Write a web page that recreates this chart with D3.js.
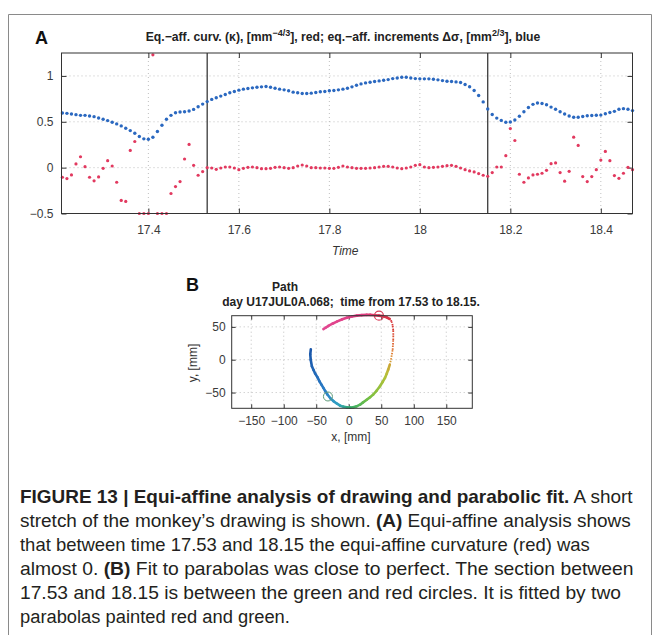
<!DOCTYPE html>
<html><head><meta charset="utf-8">
<script src="https://cdn.jsdelivr.net/npm/d3@7"></script>
<style>body{margin:0;background:#fff} svg{display:block}</style>
</head><body>
<svg id="c" width="658" height="635"></svg>
<script>
// ---------- DATA ----------
const times = [17.21,17.22,17.23,17.24,17.25,17.26,17.27,17.28,17.29,17.30,17.31,17.32,17.33,17.34,17.35,17.36,17.37,17.38,17.39,17.40,17.41,17.42,17.43,17.44,17.45,17.46,17.47,17.48,17.49,17.50,17.51,17.52,17.53,17.54,17.55,17.56,17.57,17.58,17.59,17.60,17.61,17.62,17.63,17.64,17.65,17.66,17.67,17.68,17.69,17.70,17.71,17.72,17.73,17.74,17.75,17.76,17.77,17.78,17.79,17.80,17.81,17.82,17.83,17.84,17.85,17.86,17.87,17.88,17.89,17.90,17.91,17.92,17.93,17.94,17.95,17.96,17.97,17.98,17.99,18.00,18.01,18.02,18.03,18.04,18.05,18.06,18.07,18.08,18.09,18.10,18.11,18.12,18.13,18.14,18.15,18.16,18.17,18.18,18.19,18.20,18.21,18.22,18.23,18.24,18.25,18.26,18.27,18.28,18.29,18.30,18.31,18.32,18.33,18.34,18.35,18.36,18.37,18.38,18.39,18.40,18.41,18.42,18.43,18.44,18.45,18.46,18.47];
const incrementsBlue = [0.596,0.592,0.585,0.578,0.570,0.570,0.563,0.556,0.542,0.527,0.513,0.495,0.477,0.455,0.430,0.404,0.375,0.339,0.314,0.310,0.332,0.394,0.462,0.527,0.570,0.599,0.606,0.610,0.617,0.635,0.664,0.693,0.720,
 0.744,0.762,0.780,0.798,0.816,0.830,0.845,0.856,0.863,0.870,0.877,0.881,0.884,0.877,0.866,0.856,0.848,0.838,0.823,0.816,0.809,0.809,0.812,0.819,0.827,0.830,0.838,0.841,0.848,0.856,0.865,
 0.881,0.899,0.913,0.924,0.931,0.939,0.946,0.953,0.960,0.971,0.978,0.986,0.986,0.978,0.971,0.968,0.968,0.968,0.964,0.957,0.949,0.942,0.939,0.935,0.928,0.906,0.882,0.841,0.787,0.717,
 0.640,0.580,0.540,0.515,0.495,0.497,0.520,0.560,0.610,0.655,0.690,0.705,0.700,0.685,0.660,0.637,0.610,0.585,0.563,0.550,0.549,0.558,0.565,0.568,0.571,0.573,0.588,0.602,0.614,0.636,0.643,0.637,0.622];
const curvatureRed = [-0.105,-0.119,-0.079,0.040,0.119,0.011,-0.105,-0.144,-0.101,-0.007,0.076,0.018,-0.159,-0.357,-0.368,0.188,0.285,-0.5,-0.5,-0.5,1.23,-0.5,-0.5,-0.5,-0.282,-0.206,-0.152,0.094,0.253,0.025,-0.083,-0.043,
 0.0,-0.004,-0.018,-0.004,0.007,0.007,-0.004,-0.022,-0.007,0.004,0.007,0.0,-0.011,-0.011,-0.007,0.004,0.007,0.0,-0.007,0.0,0.018,0.029,0.018,0.0,0.0,-0.004,-0.004,-0.007,-0.007,0.004,0.018,0.007,
 0.0,-0.007,-0.007,-0.007,-0.004,0.0,0.007,0.014,0.014,0.007,-0.004,-0.011,-0.004,0.007,0.025,0.032,0.007,0.0,0.004,0.007,0.014,0.022,0.025,0.014,-0.004,-0.022,-0.036,-0.047,-0.065,-0.083,
 -0.094,-0.054,0.007,0.007,0.130,0.426,0.296,-0.072,-0.159,-0.112,-0.079,-0.072,-0.061,-0.029,0.043,0.051,-0.054,-0.148,-0.040,0.332,0.242,-0.097,-0.152,-0.097,-0.022,0.083,0.177,0.076,-0.087,-0.116,-0.061,0.004,-0.022];
const sectionBounds = [17.53, 18.15];
const timeTicks = [17.4, 17.6, 17.8, 18.0, 18.2, 18.4];
const timeTickLabels = ["17.4","17.6","17.8","18","18.2","18.4"];
const valueTicks = [-0.5, 0, 0.5, 1];
const valueTickLabels = ["\u22120.5","0","0.5","1"];

const pathX = [-58.3,-59.2,-58.5,-56.7,-54,-51.7,-48,-45,-42,-39,-36,-32.8,-28,-23.6,-18,-13.3,-8,-3,2,7,12,17.3,22,27.6,33,37.7,43,48,52,55.7,58.5,60.7,63,64.9,66.3,67.5,68,68.4,68.5,68.4,67.6,66,63,58.3,52,46.5,40,33,27.6,20,12.3,5,-3,-10,-18.4,-25,-31.3,-35,-39];
const pathY = [16,8,0,-10,-16,-21,-27,-33,-38,-43,-48,-53,-59,-63,-67,-70,-71.5,-72.5,-73,-72.5,-71,-68.5,-65,-61,-57,-53,-47,-40.4,-34,-27.8,-21,-15,-8,0,8,15,23,30,38,45,52,58,62,64.5,66.3,67.1,67.8,68.3,68.3,67.9,67.1,65.8,64,61.5,58,54.8,51.5,49,46.5];
const sectionStart = [-32, -56];   // green circle (t = 17.53)
const sectionEnd = [46.5, 67.1];   // red circle (t = 18.15)
const xTicksB = [-150,-100,-50,0,50,100,150];
const xTickLabelsB = ["\u2212150","\u2212100","\u221250","0","50","100","150"];
const yTicksB = [-50,0,50];
const yTickLabelsB = ["\u221250","0","50"];

const captionLines = [
  [["FIGURE 13 | Equi-affine analysis of drawing and parabolic fit.",true],[" A short",false]],
  [["stretch of the monkey\u2019s drawing is shown. ",false],["(A)",true],[" Equi-affine analysis shows",false]],
  [["that between time 17.53 and 18.15 the equi-affine curvature (red) was",false]],
  [["almost 0. ",false],["(B)",true],[" Fit to parabolas was close to perfect. The section between",false]],
  [["17.53 and 18.15 is between the green and red circles. It is fitted by two",false]],
  [["parabolas painted red and green.",false]]
];
const captionWidths = [613, 611, 570, 614, 601, 270];

// ---------- DRAW ----------
const svg = d3.select("#c");
const FONT = "'Liberation Sans', Arial, Helvetica, sans-serif";

// outer frame
svg.append("path").attr("d","M8.5,640 V14.5 H651.5 V640").attr("fill","none").attr("stroke","#8a8a8a").attr("stroke-width",1);

// ---- Panel A ----
const A = {l:61.5, r:632.5, t:53, b:213.5};
const xA = d3.scaleLinear().domain([17.208, 18.47]).range([A.l, A.r]);
const yA = d3.scaleLinear().domain([-0.5, 1.25]).range([A.b, A.t]);
const gA = svg.append("g");

gA.selectAll(".gx").data(timeTicks).join("line")
  .attr("x1",d=>xA(d)).attr("x2",d=>xA(d)).attr("y1",A.t).attr("y2",A.b)
  .attr("stroke","#b0b0b0").attr("stroke-width",0.8).attr("stroke-dasharray","1,3");
gA.selectAll(".gy").data(valueTicks).join("line")
  .attr("y1",d=>yA(d)).attr("y2",d=>yA(d)).attr("x1",A.l).attr("x2",A.r)
  .attr("stroke","#b0b0b0").attr("stroke-width",0.8).attr("stroke-dasharray","1,3");

const axB = d3.axisBottom(xA).tickValues(timeTicks).tickFormat((d,i)=>timeTickLabels[i]).tickSizeInner(-5).tickSizeOuter(0).tickPadding(12);
const axT = d3.axisTop(xA).tickValues(timeTicks).tickFormat("").tickSizeInner(-5).tickSizeOuter(0);
const axL = d3.axisLeft(yA).tickValues(valueTicks).tickFormat((d,i)=>valueTickLabels[i]).tickSizeInner(-5).tickSizeOuter(0).tickPadding(8);
const axR = d3.axisRight(yA).tickValues(valueTicks).tickFormat("").tickSizeInner(-5).tickSizeOuter(0);
function styleAxis(g){ g.select(".domain").remove(); g.selectAll("line").attr("stroke","#333"); g.selectAll("text").attr("fill","#3a3a3a").style("font-family",FONT).style("font-size","12px"); }
gA.append("g").attr("transform",`translate(0,${A.b})`).call(axB).call(styleAxis);
gA.append("g").attr("transform",`translate(0,${A.t})`).call(axT).call(styleAxis);
gA.append("g").attr("transform",`translate(${A.l},0)`).call(axL).call(styleAxis);
gA.append("g").attr("transform",`translate(${A.r},0)`).call(axR).call(styleAxis);

gA.selectAll(".sb").data(sectionBounds).join("line")
  .attr("x1",d=>xA(d)).attr("x2",d=>xA(d)).attr("y1",A.t).attr("y2",A.b)
  .attr("stroke","#3a3a3a").attr("stroke-width",1.3);

const blueData = times.map((t,i)=>[t,incrementsBlue[i]]);
const redData = times.map((t,i)=>[t,curvatureRed[i]]);
gA.selectAll(".rb").data(redData).join("circle")
  .attr("cx",d=>xA(d[0])).attr("cy",d=>yA(d[1])).attr("r",1.6).attr("fill","#e2395f");
gA.selectAll(".bb").data(blueData).join("circle")
  .attr("cx",d=>xA(d[0])).attr("cy",d=>yA(d[1])).attr("r",1.7).attr("fill","#2a68c0");

gA.append("rect").attr("x",A.l).attr("y",A.t).attr("width",A.r-A.l).attr("height",A.b-A.t)
  .attr("fill","none").attr("stroke","#333").attr("stroke-width",1);

svg.append("text").attr("x",35).attr("y",44).text("A")
  .style("font-family",FONT).style("font-weight","bold").style("font-size","18px").attr("fill","#111");
const tA = svg.append("text").attr("x",(A.l+A.r)/2 - 4).attr("y",41).attr("text-anchor","middle")
  .style("font-family",FONT).style("font-weight","bold").style("font-size","12.2px").attr("fill","#222");
tA.append("tspan").text("Eq.\u2212aff. curv. (\u03BA), [mm");
tA.append("tspan").attr("dy",-5).style("font-size","9px").text("\u22124/3");
tA.append("tspan").attr("dy",5).text("], red; eq.\u2212aff. increments \u0394\u03C3, [mm");
tA.append("tspan").attr("dy",-5).style("font-size","9px").text("2/3");
tA.append("tspan").attr("dy",5).text("], blue");
svg.append("text").attr("x",xA(17.835)).attr("y",255).attr("text-anchor","middle").text("Time")
  .style("font-family",FONT).style("font-style","italic").style("font-size","12px").attr("fill","#333");

// ---- Panel B ----
const B = {l:231.7, r:472.3, t:315.7, b:408.3};
const xB = d3.scaleLinear().domain([-180, 190]).range([B.l, B.r]);
const yB = d3.scaleLinear().domain([-74, 67]).range([B.b, B.t]);
const gB = svg.append("g");
gB.selectAll(".gx").data(xTicksB).join("line")
  .attr("x1",d=>xB(d)).attr("x2",d=>xB(d)).attr("y1",B.t).attr("y2",B.b)
  .attr("stroke","#b0b0b0").attr("stroke-width",0.8).attr("stroke-dasharray","1,3");
gB.selectAll(".gy").data(yTicksB).join("line")
  .attr("y1",d=>yB(d)).attr("y2",d=>yB(d)).attr("x1",B.l).attr("x2",B.r)
  .attr("stroke","#b0b0b0").attr("stroke-width",0.8).attr("stroke-dasharray","1,3");
gB.append("g").attr("transform",`translate(0,${B.b})`)
  .call(d3.axisBottom(xB).tickValues(xTicksB).tickFormat((d,i)=>xTickLabelsB[i]).tickSizeInner(-4).tickSizeOuter(0).tickPadding(8)).call(styleAxis);
gB.append("g").attr("transform",`translate(0,${B.t})`)
  .call(d3.axisTop(xB).tickValues(xTicksB).tickFormat("").tickSizeInner(-4).tickSizeOuter(0)).call(styleAxis);
gB.append("g").attr("transform",`translate(${B.l},0)`)
  .call(d3.axisLeft(yB).tickValues(yTicksB).tickFormat((d,i)=>yTickLabelsB[i]).tickSizeInner(-4).tickSizeOuter(0).tickPadding(6)).call(styleAxis);
gB.append("g").attr("transform",`translate(${B.r},0)`)
  .call(d3.axisRight(yB).tickValues(yTicksB).tickFormat("").tickSizeInner(-4).tickSizeOuter(0)).call(styleAxis);

const n = pathX.length;
const colorAlong = d3.scaleLinear()
  .domain([0, 0.18, 0.25, 0.32, 0.42, 0.52, 0.58, 0.68, 0.77, 0.84, 1])
  .range(["#1a55a8","#2b7fc8","#2fa0c0","#36b06a","#7dc040","#b8c038","#e08a34","#d93a34","#dc3352","#e03c82","#e24892"])
  .interpolate(d3.interpolateRgb);
for (let i=0;i<n-1;i++){
  const f = (i+0.5)/(n-1);
  const dotted = i>=32 && i<=41;
  gB.append("line")
    .attr("x1",xB(pathX[i])).attr("y1",yB(pathY[i]))
    .attr("x2",xB(pathX[i+1])).attr("y2",yB(pathY[i+1]))
    .attr("stroke",colorAlong(f)).attr("stroke-width",dotted?1.8:2.6)
    .attr("stroke-linecap",dotted?"butt":"round")
    .attr("stroke-dasharray",dotted?"1.6,1.2":null);
}
gB.append("circle").attr("cx",xB(sectionStart[0])).attr("cy",yB(sectionStart[1])).attr("r",4.5)
  .attr("fill","none").attr("stroke","#5c9a78").attr("stroke-width",1);
gB.append("circle").attr("cx",xB(sectionEnd[0])).attr("cy",yB(sectionEnd[1])).attr("r",4.5)
  .attr("fill","none").attr("stroke","#d8405a").attr("stroke-width",1.2);

gB.append("rect").attr("x",B.l).attr("y",B.t).attr("width",B.r-B.l).attr("height",B.b-B.t)
  .attr("fill","none").attr("stroke","#333").attr("stroke-width",1);

svg.append("text").attr("x",186).attr("y",291).text("B")
  .style("font-family",FONT).style("font-weight","bold").style("font-size","18px").attr("fill","#111");
svg.append("text").attr("x",285).attr("y",291).attr("text-anchor","middle").text("Path")
  .style("font-family",FONT).style("font-weight","bold").style("font-size","12px").attr("fill","#222");
svg.append("text").attr("x",351).attr("y",306).attr("text-anchor","middle").text("day U17JUL0A.068;  time from 17.53 to 18.15.")
  .style("font-family",FONT).style("font-weight","bold").style("font-size","12px").attr("fill","#222").attr("xml:space","preserve");
svg.append("text").attr("x",351).attr("y",441).attr("text-anchor","middle").text("x, [mm]")
  .style("font-family",FONT).style("font-size","12px").attr("fill","#333");
svg.append("text").attr("transform","translate(197,363) rotate(-90)").attr("text-anchor","middle").text("y, [mm]")
  .style("font-family",FONT).style("font-size","12px").attr("fill","#333");

// ---- Caption ----
const CAPFONT = "'Liberation Sans', Arial, sans-serif";
captionLines.forEach((line,i)=>{
  const t = svg.append("text").attr("x",0).attr("y",0).attr("xml:space","preserve")
    .style("font-family",CAPFONT).style("font-size","18px").attr("fill","#231f20");
  line.forEach(([s,b])=> t.append("tspan").text(s).style("font-weight",b?"bold":"normal"));
  const w = t.node().getComputedTextLength();
  const sx = captionWidths[i]/w;
  t.attr("transform",`translate(20,${503+i*24}) scale(${sx},1)`);
});
</script>
</body></html>
